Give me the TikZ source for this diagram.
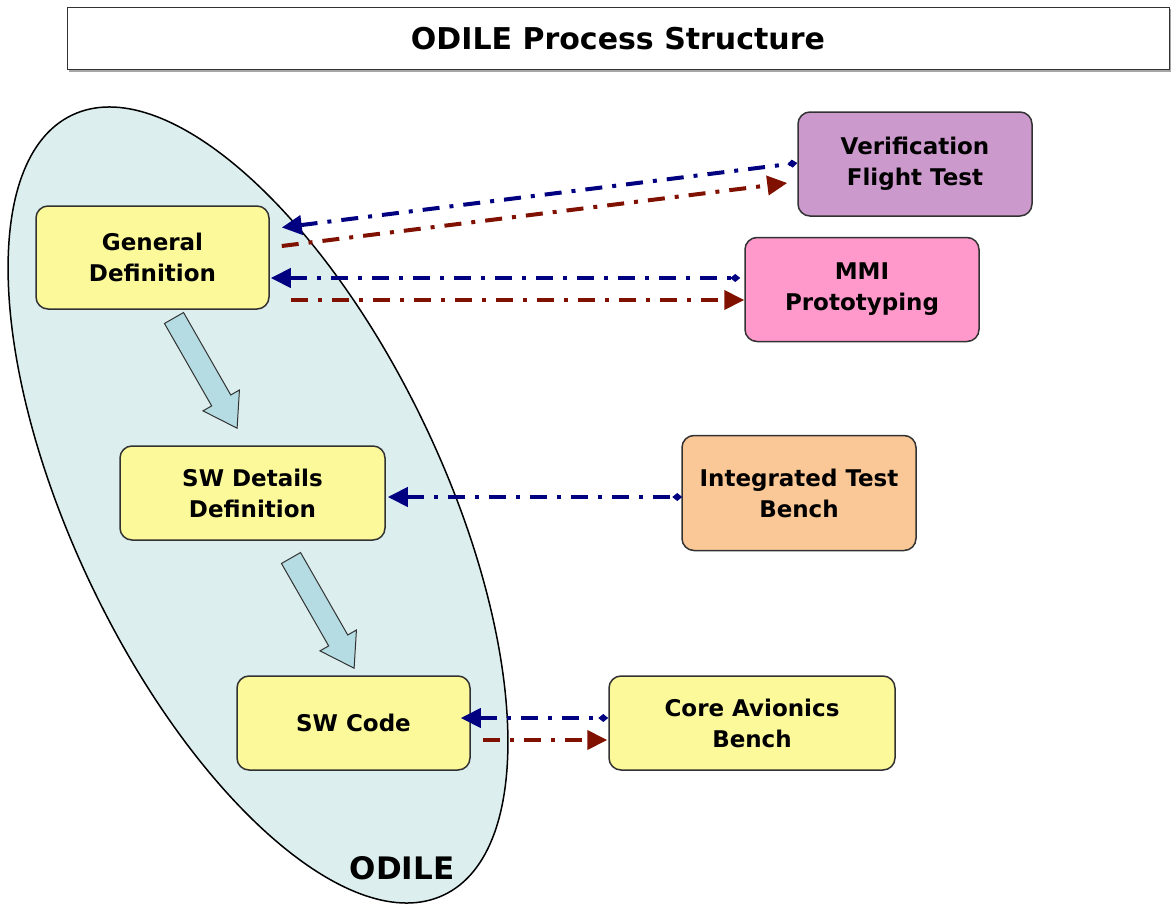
\documentclass[tikz,border=0pt]{standalone}
\usepackage{fontspec}
\setmainfont{DejaVu Sans}
\usetikzlibrary{arrows.meta,calc}
\definecolor{ellfill}{RGB}{220,238,238}
\definecolor{boxyellow}{RGB}{252,249,154}
\definecolor{boxpurple}{RGB}{204,153,204}
\definecolor{boxpink}{RGB}{255,153,204}
\definecolor{boxorange}{RGB}{250,200,150}
\definecolor{blockblue}{RGB}{180,220,226}
\definecolor{navyc}{RGB}{0,0,128}
\definecolor{maroonc}{RGB}{128,16,0}
\definecolor{edgec}{RGB}{50,50,50}
\tikzset{
  procbox/.style={draw=edgec, line width=1.5pt, rounded corners=12pt, align=center,
    inner sep=0pt, font=\fontsize{23}{31}\selectfont\bfseries},
  bluelink/.style={draw=navyc, line width=4pt, dash pattern=on 17pt off 10pt on 4pt off 10pt,
    {Triangle[length=20pt,width=19pt]}-{Diamond[length=10pt,width=8pt]}},
  redlink/.style={draw=maroonc, line width=4pt, dash pattern=on 17pt off 10pt on 4pt off 10pt,
    -{Triangle[length=20pt,width=19pt]}},
  blockarrow/.style={draw=edgec, line width=1pt, fill=blockblue},
}
\begin{document}
\begin{tikzpicture}[x=1pt,y=-1pt]
\useasboundingbox (0,0) rectangle (1171,905);
% title
\fill[gray!70] (69,9) rectangle (1171,72);
\node[draw=edgec, line width=1pt, fill=white, minimum width=1102pt, minimum height=62pt,
  inner sep=0pt, font=\fontsize{30}{34}\selectfont\bfseries] (title) at (618,38.5) {ODILE Process Structure};
% ellipse
\draw[fill=ellfill, line width=1.5pt, rotate around={-64.5:(258,505)}]
  (258,505) ellipse [x radius=432pt, y radius=185pt];
\node[font=\fontsize{31}{34}\selectfont\bfseries] (odile) at (402,868) {ODILE};
% process boxes
\node[procbox, fill=boxyellow, minimum width=233pt, minimum height=103pt] (gd) at (152.5,257.5) {General\\Definition};
\node[procbox, fill=boxyellow, minimum width=265pt, minimum height=94pt] (swd) at (252.5,493) {SW Details\\Definition};
\node[procbox, fill=boxyellow, minimum width=233pt, minimum height=94pt] (swc) at (353.5,723) {SW Code};
\node[procbox, fill=boxpurple, minimum width=234pt, minimum height=104pt] (vft) at (915,164) {Verification\\Flight Test};
\node[procbox, fill=boxpink, minimum width=234pt, minimum height=104pt] (mmi) at (862,289.5) {MMI\\Prototyping};
\node[procbox, fill=boxorange, minimum width=234pt, minimum height=115pt] (itb) at (799,493) {Integrated Test\\Bench};
\node[procbox, fill=boxyellow, minimum width=286pt, minimum height=94pt] (cab) at (752,723) {Core Avionics\\Bench};
% block arrows
\begin{scope}[shift={(174,318)}, rotate=-60.2]
  \draw[blockarrow] (0,-11) -- (95,-11) -- (95,-21) -- (127,0) -- (95,21) -- (95,11) -- (0,11) -- cycle;
\end{scope}
\begin{scope}[shift={(291,558)}, rotate=-60.2]
  \draw[blockarrow] (0,-11) -- (95,-11) -- (95,-21) -- (127,0) -- (95,21) -- (95,11) -- (0,11) -- cycle;
\end{scope}
% connector end coordinates
\path (gd.east) ++(12,-30) coordinate (gdB1);
\path (gd.east) ++(12,-11.5) coordinate (gdR1);
\path (gd.east) ++(1,20.5) coordinate (gdB2);
\path (gd.east) ++(21,42.5) coordinate (gdR2);
\path (vft.west) ++(0,-1) coordinate (vftB);
\path (vft.west) ++(-10,19) coordinate (vftR);
\path (mmi.west) ++(-4,-11.5) coordinate (mmiB);
\path (mmi.west) ++(0,10.5) coordinate (mmiR);
\path (swd.east) ++(2,4) coordinate (swdB);
\path (itb.west) ++(1,4) coordinate (itbB);
\path (swc.east) ++(-10,-5) coordinate (swcB);
\path (swc.east) ++(12,17) coordinate (swcR);
\path (cab.west) ++(0,-5) coordinate (cabB);
\path (cab.west) ++(-1,17) coordinate (cabR);
% connectors
\draw[bluelink] (gdB1) -- (vftB);
\draw[redlink] (gdR1) -- (vftR);
\draw[bluelink] (gdB2) -- (mmiB);
\draw[redlink] (gdR2) -- (mmiR);
\draw[bluelink] (swdB) -- (itbB);
\draw[bluelink] (swcB) -- (cabB);
\draw[redlink] (swcR) -- (cabR);
\end{tikzpicture}
\end{document}
